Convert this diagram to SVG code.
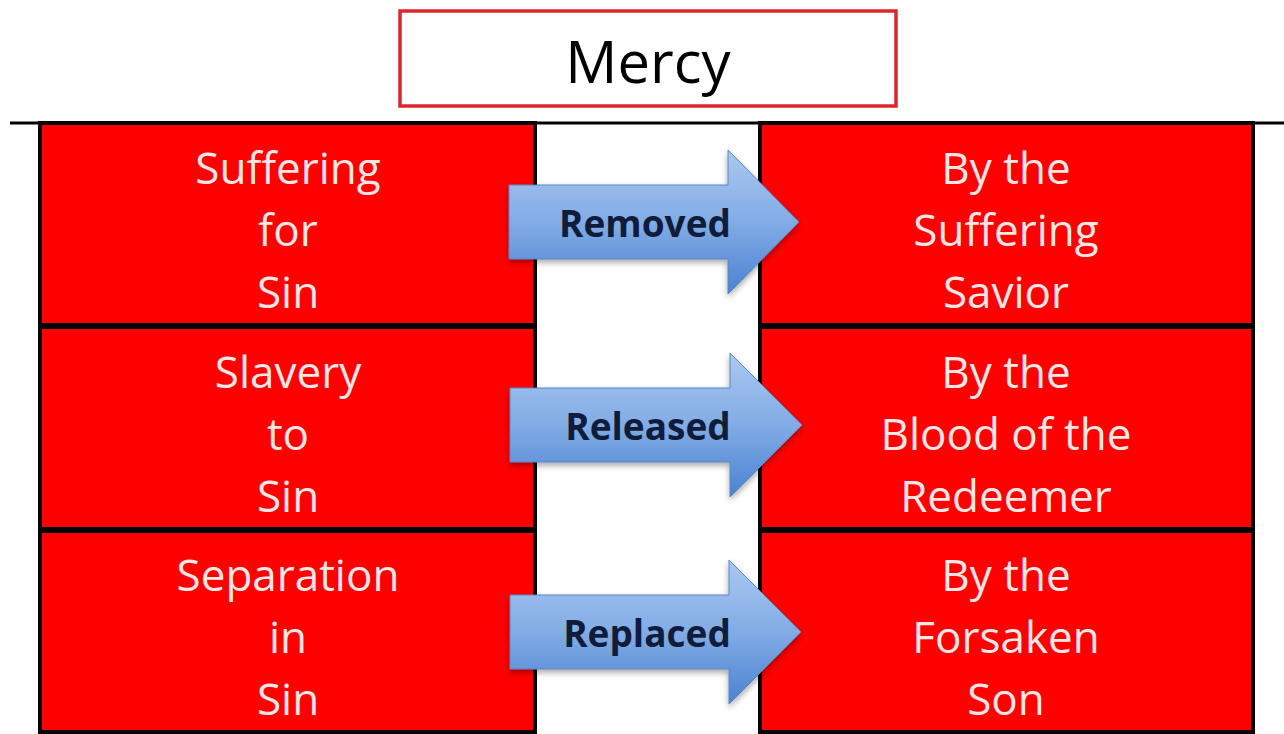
<svg xmlns="http://www.w3.org/2000/svg" width="1284" height="734" viewBox="0 0 1284 734">
  <style>
    .box { fill: #ff0000; stroke: #000000; stroke-width: 4; }
    .txt { font-family: "Open Sans", "Liberation Sans", sans-serif; font-size: 44px; fill: #fbe6e6; text-anchor: middle; }
    .lbl { font-family: "Open Sans", "Liberation Sans", sans-serif; font-size: 37px; font-weight: bold; fill: #0f1d3a; text-anchor: middle; }
    .arrow { fill: url(#blue); stroke: #5a86c2; stroke-width: 1; }
    .title { font-family: "Open Sans", "Liberation Sans", sans-serif; font-size: 58px; fill: #000000; text-anchor: middle; }
  </style>
  <defs>
    <linearGradient id="blue" x1="0" y1="0" x2="0" y2="1">
      <stop offset="0" stop-color="#aac8ef"/>
      <stop offset="0.5" stop-color="#82ace6"/>
      <stop offset="1" stop-color="#4a82d0"/>
    </linearGradient>
    <filter id="shadow" x="-10%" y="-10%" width="130%" height="130%">
      <feDropShadow dx="0" dy="3" stdDeviation="3" flood-color="#000" flood-opacity="0.35"/>
    </filter>
  </defs>
  <rect width="1284" height="734" fill="#ffffff"/>

  <g id="title">
    <rect x="400" y="11" width="496" height="95" fill="#ffffff" stroke="#d9262b" stroke-width="3.5"/>
    <text class="title" x="648" y="83">Mercy</text>
  </g>

  <line x1="10" y1="123" x2="1284" y2="123" stroke="#000" stroke-width="3"/>

  <g id="left1">
    <rect class="box" x="40" y="123" width="495" height="202"/>
    <text class="txt" x="288" y="184">Suffering</text>
    <text class="txt" x="288" y="246">for</text>
    <text class="txt" x="288" y="308">Sin</text>
  </g>
  <g id="left2">
    <rect class="box" x="40" y="327" width="495" height="202"/>
    <text class="txt" x="288" y="388">Slavery</text>
    <text class="txt" x="288" y="450">to</text>
    <text class="txt" x="288" y="512">Sin</text>
  </g>
  <g id="left3">
    <rect class="box" x="40" y="531" width="495" height="201"/>
    <text class="txt" x="288" y="591">Separation</text>
    <text class="txt" x="288" y="653">in</text>
    <text class="txt" x="288" y="715">Sin</text>
  </g>

  <g id="right1">
    <rect class="box" x="760" y="123" width="493" height="202"/>
    <text class="txt" x="1006" y="184">By the</text>
    <text class="txt" x="1006" y="246">Suffering</text>
    <text class="txt" x="1006" y="308">Savior</text>
  </g>
  <g id="right2">
    <rect class="box" x="760" y="327" width="493" height="202"/>
    <text class="txt" x="1006" y="388">By the</text>
    <text class="txt" x="1006" y="450">Blood of the</text>
    <text class="txt" x="1006" y="512">Redeemer</text>
  </g>
  <g id="right3">
    <rect class="box" x="760" y="531" width="493" height="201"/>
    <text class="txt" x="1006" y="591">By the</text>
    <text class="txt" x="1006" y="653">Forsaken</text>
    <text class="txt" x="1006" y="715">Son</text>
  </g>

  <g id="connectors">
    <g id="arrow1" filter="url(#shadow)">
      <path class="arrow" d="M509,185 H728 V150 L799,222 L728,294 V259 H509 Z"/>
    </g>
    <text class="lbl" x="645" y="237">Removed</text>
    <g id="arrow2" filter="url(#shadow)">
      <path class="arrow" d="M510,388 H730 V353 L802,425 L730,497 V462 H510 Z"/>
    </g>
    <text class="lbl" x="648" y="440">Released</text>
    <g id="arrow3" filter="url(#shadow)">
      <path class="arrow" d="M510,595 H729 V560 L801,632 L729,704 V669 H510 Z"/>
    </g>
    <text class="lbl" x="647" y="647">Replaced</text>
  </g>
</svg>
